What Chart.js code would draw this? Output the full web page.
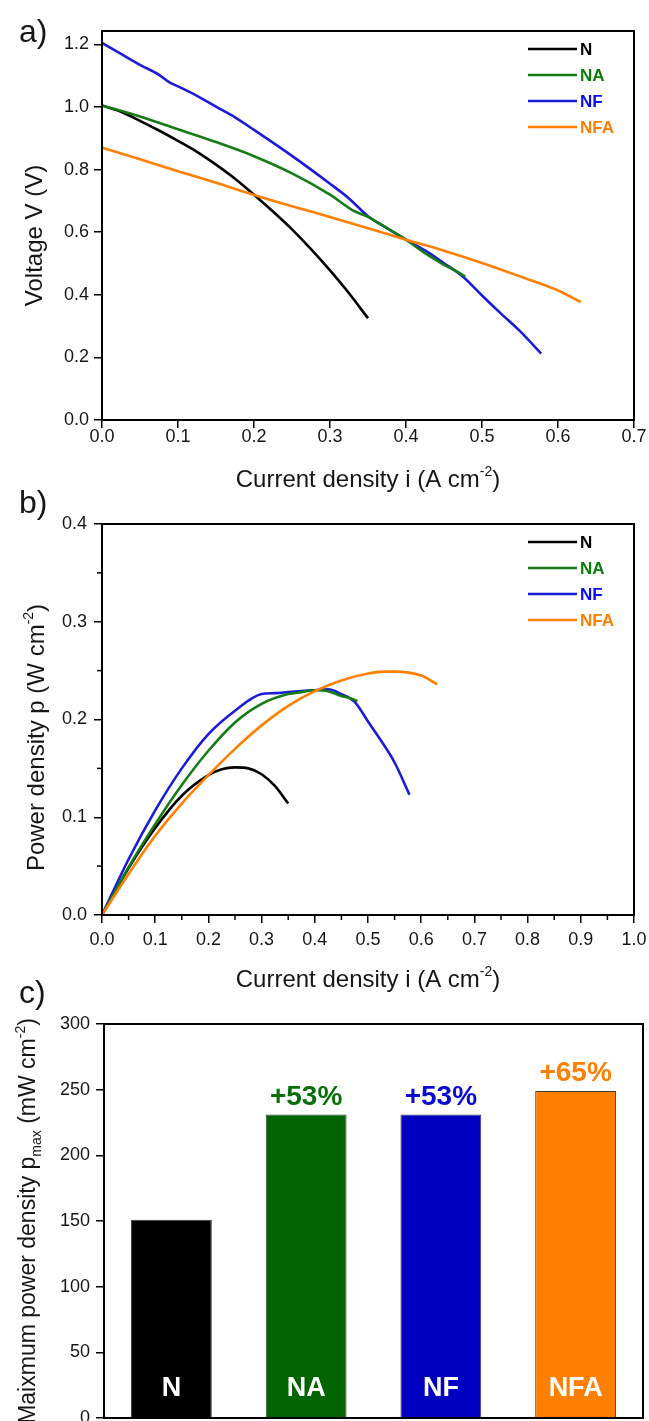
<!DOCTYPE html>
<html>
<head>
<meta charset="utf-8">
<title>Fuel cell performance: N, NA, NF, NFA</title>
<script src="https://cdn.jsdelivr.net/npm/chart.js"></script>
<style>
  html, body { margin: 0; padding: 0; background: #fff; }
  #page { position: relative; width: 649px; height: 1421px; overflow: hidden; }
  canvas { position: absolute; left: 0; }
</style>
</head>
<body>
<div id="page">
  <canvas id="voltageChart" width="649" height="500" style="top:0px"></canvas>
  <canvas id="powerChart" width="649" height="515" style="top:480px"></canvas>
  <canvas id="pmaxChart" width="649" height="461" style="top:960px"></canvas>
</div>
<script>
const sampleNames = ["N", "NA", "NF", "NFA"];
const lineColors = ["#000000", "#157c15", "#1b1bd8", "#ff8000"];
const legendColors = ["#000000", "#0b7d0b", "#0c0cf0", "#ff8000"];
const drawOrder = [3, 1, 2, 0];

// a) voltage vs current density
const nCurrentA = [0, 0.025, 0.05, 0.075, 0.1, 0.125, 0.15, 0.175, 0.2, 0.225, 0.25, 0.275, 0.3, 0.325, 0.35];
const nVoltage = [1.005, 0.985, 0.956, 0.925, 0.892, 0.857, 0.816, 0.771, 0.720, 0.666, 0.609, 0.546, 0.478, 0.405, 0.325];
const naCurrentA = [0, 0.05, 0.1, 0.15, 0.2, 0.25, 0.3, 0.33, 0.35, 0.375, 0.4, 0.425, 0.45, 0.465, 0.478];
const naVoltage = [1.005, 0.970, 0.929, 0.888, 0.843, 0.788, 0.720, 0.670, 0.649, 0.613, 0.576, 0.533, 0.496, 0.477, 0.458];
const nfCurrentA = [0, 0.025, 0.05, 0.075, 0.09, 0.1, 0.125, 0.15, 0.175, 0.2, 0.25, 0.3, 0.325, 0.35, 0.375, 0.4, 0.425, 0.45, 0.475, 0.5, 0.525, 0.55, 0.578];
const nfVoltage = [1.205, 1.170, 1.135, 1.103, 1.077, 1.066, 1.036, 1.001, 0.967, 0.927, 0.844, 0.755, 0.708, 0.651, 0.613, 0.576, 0.542, 0.501, 0.458, 0.398, 0.340, 0.284, 0.212];
const nfaCurrentA = [0, 0.05, 0.1, 0.15, 0.2, 0.25, 0.3, 0.35, 0.4, 0.45, 0.5, 0.55, 0.6, 0.63];
const nfaVoltage = [0.870, 0.833, 0.795, 0.758, 0.719, 0.683, 0.649, 0.613, 0.576, 0.541, 0.502, 0.459, 0.414, 0.377];
const voltageTicks = [0, 0.2, 0.4, 0.6, 0.8, 1.0, 1.2];
const currentTicksA = [0, 0.1, 0.2, 0.3, 0.4, 0.5, 0.6, 0.7];

// b) power density vs current density
const nCurrentB = [0, 0.05, 0.1, 0.15, 0.2, 0.225, 0.25, 0.275, 0.3, 0.325, 0.35];
const nPower = [0, 0.048, 0.089, 0.122, 0.143, 0.149, 0.151, 0.150, 0.144, 0.132, 0.114];
const naCurrentB = [0, 0.05, 0.1, 0.15, 0.2, 0.25, 0.3, 0.35, 0.375, 0.4, 0.425, 0.45, 0.465, 0.48];
const naPower = [0, 0.049, 0.093, 0.133, 0.168, 0.197, 0.216, 0.226, 0.228, 0.230, 0.229, 0.224, 0.222, 0.219];
const nfCurrentB = [0, 0.05, 0.1, 0.15, 0.2, 0.25, 0.3, 0.325, 0.35, 0.375, 0.4, 0.425, 0.45, 0.475, 0.5, 0.525, 0.55, 0.578];
const nfPower = [0, 0.057, 0.107, 0.150, 0.185, 0.209, 0.226, 0.227, 0.228, 0.229, 0.230, 0.231, 0.226, 0.218, 0.198, 0.178, 0.156, 0.123];
const nfaCurrentB = [0, 0.05, 0.1, 0.15, 0.2, 0.25, 0.3, 0.35, 0.4, 0.45, 0.5, 0.53, 0.55, 0.6, 0.63];
const nfaPower = [0, 0.042, 0.081, 0.114, 0.143, 0.170, 0.194, 0.214, 0.229, 0.240, 0.247, 0.249, 0.249, 0.245, 0.236];
const powerTicks = [0, 0.1, 0.2, 0.3, 0.4];
const powerMinorTicks = [0.05, 0.15, 0.25, 0.35];
const currentTicksB = [0, 0.1, 0.2, 0.3, 0.4, 0.5, 0.6, 0.7, 0.8, 0.9, 1.0];
const currentMinorTicksB = [0.05, 0.15, 0.25, 0.35, 0.45, 0.55, 0.65, 0.75, 0.85, 0.95];

// c) maximum power density
const pmaxValues = [151, 231, 231, 249];
const barColors = ["#000000", "#006400", "#0000c0", "#ff7f00"];
const gainLabels = ["", "+53%", "+53%", "+65%"];
const gainColors = ["#000000", "#0a6e0a", "#0a0ad2", "#ff8000"];
const pmaxTicks = [0, 50, 100, 150, 200, 250, 300];

const fontFamily = '"Liberation Sans", Arial, sans-serif';
const textColor = "#161616";

const toPoints = (xs, ys) => xs.map((x, i) => ({ x, y: ys[i] }));

const drawRichText = (ctx, parts, x, y, size, rotate) => {
  const fontFor = (mode) =>
    `${mode === "normal" ? size : Math.round(size * 0.6)}px ${fontFamily}`;
  ctx.save();
  ctx.translate(x, y);
  if (rotate) ctx.rotate(-Math.PI / 2);
  let total = 0;
  parts.forEach(([text, mode]) => {
    ctx.font = fontFor(mode);
    total += ctx.measureText(text).width;
  });
  let cursor = -total / 2;
  ctx.textAlign = "left";
  ctx.textBaseline = "alphabetic";
  ctx.fillStyle = textColor;
  parts.forEach(([text, mode]) => {
    ctx.font = fontFor(mode);
    const dy = mode === "sup" ? -size * 0.45 : mode === "sub" ? size * 0.25 : 0;
    ctx.fillText(text, cursor, dy);
    cursor += ctx.measureText(text).width;
  });
  ctx.restore();
};

// box, minor ticks, panel letter and axis titles
const makeFramePlugin = (cfg) => ({
  id: "frame",
  afterDraw(chart) {
    const { ctx, chartArea } = chart;
    const { left, top, right, bottom } = chartArea;
    ctx.save();
    ctx.strokeStyle = "#000";
    ctx.lineWidth = 2;
    ctx.strokeRect(left, top, right - left, bottom - top);
    ctx.lineWidth = 1.5;
    (cfg.xMinor || []).forEach((v) => {
      const px = chart.scales.x.getPixelForValue(v);
      ctx.beginPath();
      ctx.moveTo(px, bottom);
      ctx.lineTo(px, bottom + 5);
      ctx.stroke();
    });
    (cfg.yMinor || []).forEach((v) => {
      const py = chart.scales.y.getPixelForValue(v);
      ctx.beginPath();
      ctx.moveTo(left, py);
      ctx.lineTo(left - 5, py);
      ctx.stroke();
    });
    ctx.fillStyle = textColor;
    ctx.font = `32px ${fontFamily}`;
    ctx.textAlign = "left";
    ctx.textBaseline = "alphabetic";
    ctx.fillText(cfg.letter, 19, cfg.letterY);
    ctx.restore();
    if (cfg.xTitle) {
      drawRichText(ctx, cfg.xTitle, (left + right) / 2, bottom + cfg.xTitleGap, cfg.titleSize, false);
    }
    drawRichText(ctx, cfg.yTitle, cfg.yTitleX, (top + bottom) / 2 + cfg.yTitleShift, cfg.titleSize, true);
  },
});

const legendPlugin = {
  id: "seriesLegend",
  afterDraw(chart) {
    const { ctx, chartArea } = chart;
    ctx.save();
    ctx.font = `bold 17px ${fontFamily}`;
    ctx.textAlign = "left";
    ctx.textBaseline = "middle";
    sampleNames.forEach((name, i) => {
      const y = chartArea.top + 18 + 26 * i;
      ctx.strokeStyle = lineColors[i];
      ctx.lineWidth = 2.6;
      ctx.beginPath();
      ctx.moveTo(chartArea.right - 106, y);
      ctx.lineTo(chartArea.right - 57, y);
      ctx.stroke();
      ctx.fillStyle = legendColors[i];
      ctx.fillText(name, chartArea.right - 54, y + 1);
    });
    ctx.restore();
  },
};

const lineDatasets = (series) =>
  series.map(([xs, ys], i) => ({
    label: sampleNames[i],
    data: toPoints(xs, ys),
    borderColor: lineColors[i],
    borderWidth: 2.6,
    pointRadius: 0,
    fill: false,
    cubicInterpolationMode: "monotone",
    order: drawOrder[i],
  }));

const noPadding = (s) => {
  s.paddingLeft = 0;
  s.paddingRight = 0;
  s.paddingTop = 0;
  s.paddingBottom = 0;
};

const axisOptions = (ticks, min, max, size, tickPadding, format) => ({
  type: "linear",
  min,
  max,
  afterBuildTicks: (axis) => {
    axis.ticks = ticks.map((value) => ({ value }));
  },
  afterFit: (s) => {
    if (s.isHorizontal()) s.height = size;
    else s.width = size;
    noPadding(s);
  },
  grid: { display: true, drawOnChartArea: false, drawTicks: true, tickLength: 8, color: "#000", lineWidth: 1.5 },
  border: { display: false },
  ticks: {
    padding: tickPadding,
    color: textColor,
    font: { family: fontFamily, size: 18 },
    maxRotation: 0,
    autoSkip: false,
    callback: format || ((value) => Number(value).toFixed(1)),
  },
});

const commonOptions = {
  responsive: false,
  animation: false,
  devicePixelRatio: 1,
  plugins: { legend: { display: false }, tooltip: { enabled: false } },
};

new Chart(document.getElementById("voltageChart"), {
  type: "line",
  data: {
    datasets: lineDatasets([
      [nCurrentA, nVoltage],
      [naCurrentA, naVoltage],
      [nfCurrentA, nfVoltage],
      [nfaCurrentA, nfaVoltage],
    ]),
  },
  options: {
    ...commonOptions,
    layout: { padding: { top: 31, right: 15, left: 0, bottom: 0 } },
    scales: {
      x: axisOptions(currentTicksA, 0, 0.7, 80, -2),
      y: axisOptions(voltageTicks, 0, 1.243, 102, 5),
    },
  },
  plugins: [
    legendPlugin,
    makeFramePlugin({
      letter: "a)",
      letterY: 42,
      titleSize: 24,
      xTitle: [["Current density i (A cm", "normal"], ["-2", "sup"], [")", "normal"]],
      xTitleGap: 67,
      yTitle: [["Voltage V (V)", "normal"]],
      yTitleX: 42,
      yTitleShift: 10,
    }),
  ],
});

new Chart(document.getElementById("powerChart"), {
  type: "line",
  data: {
    datasets: lineDatasets([
      [nCurrentB, nPower],
      [naCurrentB, naPower],
      [nfCurrentB, nfPower],
      [nfaCurrentB, nfaPower],
    ]),
  },
  options: {
    ...commonOptions,
    layout: { padding: { top: 44, right: 15, left: 0, bottom: 0 } },
    scales: {
      x: axisOptions(currentTicksB, 0, 1.0, 80, 6),
      y: axisOptions(powerTicks, 0, 0.4, 102, 7),
    },
  },
  plugins: [
    legendPlugin,
    makeFramePlugin({
      letter: "b)",
      letterY: 33,
      titleSize: 24,
      xTitle: [["Current density i (A cm", "normal"], ["-2", "sup"], [")", "normal"]],
      xTitleGap: 72,
      xMinor: currentMinorTicksB,
      yMinor: powerMinorTicks,
      yTitle: [["Power density p (W cm", "normal"], ["-2", "sup"], [")", "normal"]],
      yTitleX: 44,
      yTitleShift: 18,
    }),
  ],
});

const barTextPlugin = {
  id: "barText",
  afterDatasetsDraw(chart) {
    const { ctx, chartArea } = chart;
    const bars = chart.getDatasetMeta(0).data;
    ctx.save();
    ctx.textAlign = "center";
    ctx.textBaseline = "alphabetic";
    bars.forEach((bar, i) => {
      ctx.font = `bold 28px ${fontFamily}`;
      ctx.fillStyle = gainColors[i];
      if (gainLabels[i]) ctx.fillText(gainLabels[i], bar.x, bar.y - 10);
      ctx.font = `bold 27px ${fontFamily}`;
      ctx.fillStyle = "#ffffff";
      ctx.fillText(sampleNames[i], bar.x, chartArea.bottom - 22);
    });
    ctx.restore();
  },
};

new Chart(document.getElementById("pmaxChart"), {
  type: "bar",
  data: {
    labels: sampleNames,
    datasets: [
      {
        data: pmaxValues,
        backgroundColor: barColors,
        borderColor: "#3c3c3c",
        borderWidth: 1,
        barPercentage: 0.6,
        categoryPercentage: 1.0,
      },
    ],
  },
  options: {
    ...commonOptions,
    layout: { padding: { top: 64, right: 6, left: 0, bottom: 0 } },
    scales: {
      x: {
        type: "category",
        afterFit: (s) => {
          s.height = 3;
          noPadding(s);
        },
        grid: { display: false },
        border: { display: false },
        ticks: { display: false },
      },
      y: axisOptions(pmaxTicks, 0, 300, 104, 6, (value) => String(value)),
    },
  },
  plugins: [
    barTextPlugin,
    makeFramePlugin({
      letter: "c)",
      letterY: 43,
      titleSize: 23,
      yTitle: [
        ["Maixmum power density p", "normal"],
        ["max", "sub"],
        [" (mW cm", "normal"],
        ["-2", "sup"],
        [")", "normal"],
      ],
      yTitleX: 35,
      yTitleShift: 0,
    }),
  ],
});
</script>
</body>
</html>
